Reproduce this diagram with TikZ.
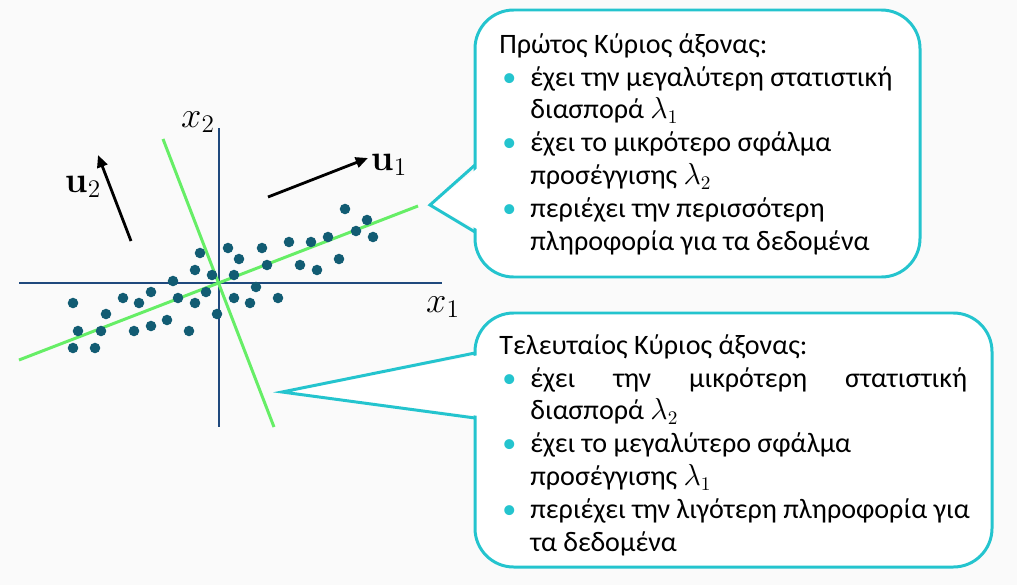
\documentclass[tikz,border=0pt]{standalone}
\usepackage[no-math]{fontspec}
\setmainfont{Carlito}
\usepackage{amsmath}
\usetikzlibrary{arrows.meta, positioning}
\definecolor{axisblue}{RGB}{31,73,125}
\definecolor{dotteal}{RGB}{18,92,115}
\definecolor{pcgreen}{RGB}{102,238,102}
\definecolor{callcyan}{RGB}{36,196,206}
\definecolor{bggray}{RGB}{250,250,250}
\tikzset{
  axis/.style={draw=axisblue, line width=0.8pt},
  pcline/.style={draw=pcgreen, line width=1.7pt},
  datadot/.style={fill=dotteal},
  vecarrow/.style={-{Triangle[length=7pt,width=6pt]}, line width=1.6pt, black},
  callout/.style={draw=callcyan, fill=white, line width=1.7pt, rounded corners=22pt},
  calltext/.style={inner sep=0pt, align=left, anchor=north west,
    font=\fontsize{16pt}{18.7pt}\selectfont},
  mathlbl/.style={inner sep=0pt, font=\fontsize{20pt}{22pt}\selectfont}
}
\newcommand{\bul}{\makebox[0.62cm][l]{\hspace{0.06cm}\textcolor{callcyan}{•}}}
\newcommand{\ind}{\hspace*{0.62cm}}

\begin{document}
\begin{tikzpicture}[x=0.02cm, y=-0.02cm]
  \useasboundingbox (0,0) rectangle (1017,585);
  \fill[bggray] (0,0) rectangle (1017,585);

  % axes and principal directions
  \coordinate (xl) at (19,283);
  \coordinate (xr) at (442,283);
  \coordinate (yt) at (219,128);
  \coordinate (yb) at (219,427);
  \draw[axis] (xl) -- (xr);
  \draw[axis] (yt) -- (yb);
  \node[mathlbl] (x1lbl) at (443,307) {$x_1$};
  \node[mathlbl] (x2lbl) at (198,122) {$x_2$};

  \coordinate (pc1a) at (19,360);
  \coordinate (pc1b) at (418,206);
  \coordinate (pc2a) at (163,139);
  \coordinate (pc2b) at (274,427);
  \draw[pcline] (pc1a) -- (pc1b);
  \draw[pcline] (pc2a) -- (pc2b);

  \foreach \px/\py in {345/209, 367/220, 356/231, 373/237, 289/242, 311/242,
      328/237, 339/259, 300/265, 317/270, 262/248, 267/265, 228/248, 239/259,
      234/275, 256/287, 278/298, 250/303, 234/298, 217/314, 200/253, 195/270,
      212/275, 173/281, 206/292, 195/303, 178/298, 151/292, 139/303, 123/298,
      73/303, 106/314, 78/331, 101/331, 73/348, 95/348, 134/331, 151/326,
      167/320, 189/331}
    \fill[datadot] (\px,\py) circle[radius=3pt];

  % eigenvectors
  \coordinate (u1s) at (268,197);
  \coordinate (u1e) at (368,158);
  \coordinate (u2s) at (131,241);
  \coordinate (u2e) at (98,155);
  \draw[vecarrow] (u1s) -- (u1e);
  \draw[vecarrow] (u2s) -- (u2e);
  \node[mathlbl] (u1lbl) at (389,165) {$\mathbf{u}_1$};
  \node[mathlbl] (u2lbl) at (83,187) {$\mathbf{u}_2$};

  % first callout
  \coordinate (tip1) at (430,205);
  \draw[callout] (475,10) rectangle (920,277);
  \fill[white] (479,167) -- (431,205) -- (479,230) -- cycle;
  \draw[callcyan, line width=1.7pt] (475,165) -- (tip1) -- (475,232);
  \node[calltext] (firstpc) at (499,33) {Πρώτος Κύριος άξονας:\\
    \bul έχει την μεγαλύτερη στατιστική\\
    \ind διασπορά $\lambda_1$\\
    \bul έχει το μικρότερο σφάλμα\\
    \ind προσέγγισης $\lambda_2$\\
    \bul περιέχει την περισσότερη\\
    \ind πληροφορία για τα δεδομένα};

  % last callout
  \coordinate (tip2) at (282,392);
  \draw[callout] (475,313) rectangle (992,567);
  \fill[white] (479,355) -- (284,392) -- (479,416) -- cycle;
  \draw[callcyan, line width=1.7pt] (475,353) -- (tip2) -- (475,418);
  \node[calltext] (lastpc) at (499,334) {Τελευταίος Κύριος άξονας:\\
    \bul \makebox[8.74cm][s]{έχει την μικρότερη στατιστική}\\
    \ind διασπορά $\lambda_2$\\
    \bul έχει το μεγαλύτερο σφάλμα\\
    \ind προσέγγισης $\lambda_1$\\
    \bul περιέχει την λιγότερη πληροφορία για\\
    \ind τα δεδομένα};
\end{tikzpicture}
\end{document}
